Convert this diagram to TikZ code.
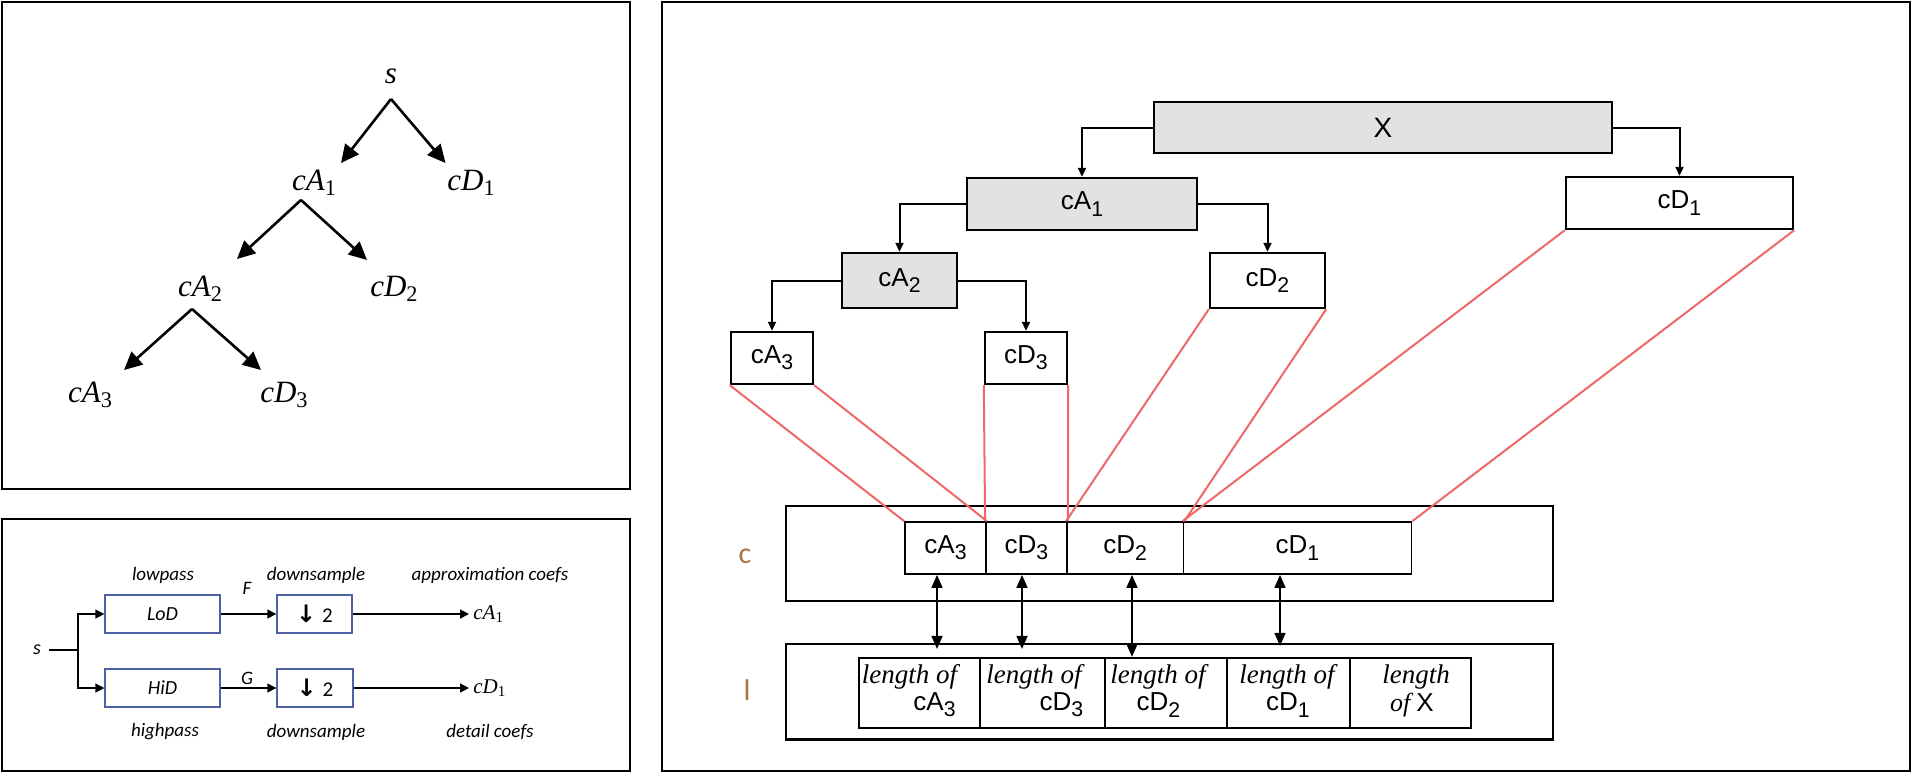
\documentclass[tikz,border=0pt]{standalone}
\usepackage{fontspec}
\newfontfamily\arial{Liberation Sans}
\newfontfamily\calib{Carlito}
\newfontfamily\lserif{Liberation Serif}
\newfontfamily\djv{DejaVu Sans}
\usepackage{graphicx}
\usetikzlibrary{arrows.meta,calc}
\definecolor{boxgray}{RGB}{226,226,226}
\definecolor{salmon}{RGB}{238,104,104}
\definecolor{boxblue}{RGB}{80,98,166}
\definecolor{lblc}{RGB}{170,115,60}
\newcommand\lsub[1]{\raisebox{-0.45ex}{\scalebox{0.82}{#1}}}
\newcommand\msub[1]{\raisebox{-0.35ex}{\scalebox{0.72}{\upshape #1}}}
\begin{document}
\begin{tikzpicture}[x=0.5pt,y=-0.5pt,
  panel/.style={draw=black,line width=1pt},
  mone/.style={font=\lserif\itshape\fontsize{15.5}{18}\selectfont,inner sep=1pt},
  bigarr/.style={line width=1.3pt,-{Triangle[length=9pt,width=8.5pt]}},
  bbox/.style={draw=boxblue,line width=0.7pt,inner sep=0pt,minimum width=57.5pt,minimum height=19pt,font=\calib\itshape\fontsize{10}{12}\selectfont},
  lbl/.style={font=\calib\itshape\fontsize{9.5}{11}\selectfont,inner sep=0pt},
  sarr/.style={line width=0.7pt,-{Triangle[length=4.5pt,width=4.5pt]}},
  thinl/.style={line width=0.7pt},
  tbox/.style={draw=black,line width=1.2pt,inner sep=0pt,font=\arial\fontsize{13}{15}\selectfont},
  gbox/.style={tbox,fill=boxgray},
  tarr/.style={line width=1pt,-{Triangle[length=4.5pt,width=4pt]}},
  cell/.style={draw=black,line width=0.9pt,inner sep=0pt,font=\arial\fontsize{13}{15}\selectfont},
  obox/.style={draw=black,line width=1.1pt,inner sep=0pt,minimum width=383.5pt},
  darr/.style={line width=0.8pt,{Triangle[length=6.5pt,width=5.5pt]}-{Triangle[length=6.5pt,width=5.5pt]}},
  redl/.style={draw=salmon,line width=1pt},
  lf/.style={font=\lserif\itshape\fontsize{13.5}{15}\selectfont,inner sep=0pt},
  ls/.style={font=\arial\fontsize{13}{15}\selectfont,inner sep=0pt},
  cl/.style={font=\calib\fontsize{15}{17}\selectfont,text=lblc,inner sep=0pt}
]
\useasboundingbox (0,0) rectangle (1912,773);
% ---------- panels
\draw[panel] (2,2) rectangle (630,489);
\draw[panel] (2,519) rectangle (630,771);
\draw[panel] (662,2) rectangle (1910,771);

% ---------- panel 1: tree
\node[mone] (ps) at (391,76) {s};
\node[mone] (pcA1) at (314,183) {cA\msub{1}};
\node[mone] (pcD1) at (471,183) {cD\msub{1}};
\node[mone] (pcA2) at (200,289) {cA\msub{2}};
\node[mone] (pcD2) at (394,289) {cD\msub{2}};
\node[mone] (pcA3) at (90,395) {cA\msub{3}};
\node[mone] (pcD3) at (284,395) {cD\msub{3}};
\coordinate (pa1) at (391,99);
\coordinate (pt1) at (341,163);
\coordinate (pt2) at (445.5,163);
\coordinate (pa2) at (301,200);
\coordinate (pt3) at (237,259);
\coordinate (pt4) at (367,260);
\coordinate (pa3) at (192,309);
\coordinate (pt5) at (124,370);
\coordinate (pt6) at (261,370);
\draw[bigarr] (pa1) -- (pt1);
\draw[bigarr] (pa1) -- (pt2);
\draw[bigarr] (pa2) -- (pt3);
\draw[bigarr] (pa2) -- (pt4);
\draw[bigarr] (pa3) -- (pt5);
\draw[bigarr] (pa3) -- (pt6);

% ---------- panel 2: filter bank
\node[lbl] (lp) at (163,575) {lowpass};
\node[lbl] (ds1) at (316,575) {downsample};
\node[lbl] (ac) at (490,575) {approximation coefs};
\node[lbl] (hp) at (165,732) {highpass};
\node[lbl] (ds2) at (316,732) {downsample};
\node[lbl] (dc) at (490,732) {detail coefs};
\node[bbox] (lod) at (162.5,614) {LoD};
\node[bbox] (hid) at (162.5,688) {HiD};
\node[bbox,minimum width=37.5pt] (dn1) at (314.5,614) {{\djv\bfseries\upshape\fontsize{12}{12}\selectfont ↓}\hspace{3pt}{\calib\upshape\fontsize{10.5}{12}\selectfont 2}};
\node[bbox,minimum width=38pt] (dn2) at (315,688) {{\djv\bfseries\upshape\fontsize{12}{12}\selectfont ↓}\hspace{3pt}{\calib\upshape\fontsize{10.5}{12}\selectfont 2}};
\node[lbl,font=\calib\itshape\fontsize{10}{12}\selectfont] (s2) at (37,650) {s};
\node[lbl] (F) at (247,588) {F};
\node[lbl] (G) at (247,678) {G};
\node[anchor=west,inner sep=2pt,font=\lserif\itshape\fontsize{10.5}{12}\selectfont] (ca1p) at (469,614) {cA\msub{1}};
\node[anchor=west,inner sep=2pt,font=\lserif\itshape\fontsize{10.5}{12}\selectfont] (cd1p) at (469,688) {cD\msub{1}};
\coordinate (br) at (78,650);
\draw[thinl] ($(s2.east)+(8,0)$) -- (br);
\draw[sarr] (br) |- (lod.west);
\draw[sarr] (br) |- (hid.west);
\draw[sarr] (lod.east) -- (dn1.west);
\draw[sarr] (hid.east) -- (dn2.west);
\draw[sarr] (dn1.east) -- (ca1p.west);
\draw[sarr] (dn2.east) -- (cd1p.west);

% ---------- panel 3: wavedec structure
\node[gbox,minimum width=229pt,minimum height=25.5pt] (X) at (1383,127.5) {\fontsize{14}{16}\selectfont X};
\node[gbox,minimum width=115pt,minimum height=26pt] (cA1) at (1082,204) {cA\lsub{1}};
\node[tbox,minimum width=113.5pt,minimum height=26pt] (cD1) at (1679.5,203) {cD\lsub{1}};
\node[gbox,minimum width=57.5pt,minimum height=27.5pt] (cA2) at (899.5,280.5) {cA\lsub{2}};
\node[tbox,minimum width=57.5pt,minimum height=27.5pt] (cD2) at (1267.5,280.5) {cD\lsub{2}};
\node[tbox,minimum width=41pt,minimum height=26pt] (cA3) at (772,358) {cA\lsub{3}};
\node[tbox,minimum width=41pt,minimum height=26pt] (cD3) at (1026,358) {cD\lsub{3}};
\draw[tarr] (X.west) -| (cA1.north);
\draw[tarr] (X.east) -| (cD1.north);
\draw[tarr] (cA1.west) -| (cA2.north);
\draw[tarr] (cA1.east) -| (cD2.north);
\draw[tarr] (cA2.west) -| (cA3.north);
\draw[tarr] (cA2.east) -| (cD3.north);

\node[obox,minimum height=47.5pt] (cbox) at (1169.5,553.5) {};
\node[cell,minimum width=40.5pt,minimum height=26pt] (ccA3) at (945.5,548) {cA\lsub{3}};
\node[cell,minimum width=40.5pt,minimum height=26pt] (ccD3) at (1026.5,548) {cD\lsub{3}};
\node[cell,minimum width=58.25pt,minimum height=26pt] (ccD2) at (1125.25,548) {cD\lsub{2}};
\node[cell,minimum width=114pt,minimum height=26pt] (ccD1) at (1297.5,548) {cD\lsub{1}};

\node[obox,minimum height=47.75pt] (lbox) at (1169.5,691.75) {};
\node[cell,minimum width=60.5pt,minimum height=35.25pt] (l1) at (919.5,693) {};
\node[cell,minimum width=62.5pt,minimum height=35.25pt] (l2) at (1042.5,693) {};
\node[cell,minimum width=61pt,minimum height=35.25pt] (l3) at (1166,693) {};
\node[cell,minimum width=61.5pt,minimum height=35.25pt] (l4) at (1288.5,693) {};
\node[cell,minimum width=60.5pt,minimum height=35.25pt] (l5) at (1410.5,693) {};
\node[lf] (l1a) at ($(l1.center)+(-10,-16)$) {length of};
\node[ls] (l1b) at ($(l1.center)+(15,12)$) {cA\lsub{3}};
\node[lf] (l2a) at ($(l2.center)+(-8.5,-16)$) {length of};
\node[ls] (l2b) at ($(l2.center)+(19,12)$) {cD\lsub{3}};
\node[lf] (l3a) at ($(l3.center)+(-8,-16)$) {length of};
\node[ls] (l3b) at ($(l3.center)+(-7.5,12)$) {cD\lsub{2}};
\node[lf] (l4a) at ($(l4.center)+(-1.5,-16)$) {length of};
\node[ls] (l4b) at ($(l4.center)+(-0.5,12)$) {cD\lsub{1}};
\node[lf] (l5a) at ($(l5.center)+(5.5,-16)$) {length};
\node[ls] (l5b) at ($(l5.center)+(1.5,12)$) {{\lserif\itshape of}\hspace{3pt}X};

\node[cl] (clab) at (745,556) {c};
\node[cl] (llab) at (747,690) {l};

\path (ccA3.south) ++(-8.5,0) coordinate (u1);
\path (ccD3.south) ++(-4.5,0) coordinate (u2);
\path (ccD2.south) ++(6.75,0) coordinate (u3);
\path (ccD1.south) ++(-17.5,0) coordinate (u4);
\draw[darr] (u1) -- ($(u1 |- lbox.north)+(0,6)$);
\draw[darr] (u2) -- ($(u2 |- lbox.north)+(0,6)$);
\draw[darr] (u3) -- (u3 |- l3.north);
\draw[darr] (u4) -- ($(u4 |- lbox.north)+(0,3)$);

\draw[redl] (cA3.south west) -- (ccA3.north west);
\draw[redl] (cA3.south east) -- (ccA3.north east);
\draw[redl] (cD3.south west) -- (ccD3.north west);
\draw[redl] (cD3.south east) -- (ccD3.north east);
\draw[redl] (cD2.south west) -- (ccD2.north west);
\draw[redl] (cD2.south east) -- (ccD2.north east);
\draw[redl] (cD1.south west) -- (ccD1.north west);
\draw[redl] (cD1.south east) -- (ccD1.north east);
\end{tikzpicture}
\end{document}
